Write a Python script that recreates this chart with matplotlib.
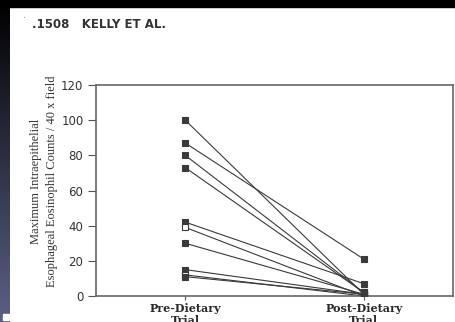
import matplotlib
matplotlib.use("Agg")
import matplotlib.pyplot as plt
import numpy as np

# eosinophil counts per patient, pre / post dietary trial
pre_counts = [100, 87, 80, 73, 42, 39, 30, 15, 12, 11]
post_counts = [1, 21, 2, 2, 7, 0, 1, 1, 0, 1]
open_marker = [False, False, False, False, False, True, False, False, True, False]
trial_labels = ["Pre-Dietary\nTrial", "Post-Dietary\nTrial"]
y_ticks = [0, 20, 40, 60, 80, 100, 120]

ink = "#3a3a3a"

fig = plt.figure(figsize=(4.56, 3.22), dpi=100)
fig.patch.set_facecolor("white")

# scanned page edges: black top band and dark gradient strip on the left
bg = fig.add_axes([0, 0, 1, 1])
bg.set_xlim(0, 456)
bg.set_ylim(322, 0)
bg.axis("off")
bg.add_patch(plt.Rectangle((0, 0), 456, 7, color="black"))
grad = np.linspace(0, 1, 256).reshape(-1, 1)
top_c = np.array([0.0, 0.0, 0.0])
bot_c = np.array([0.36, 0.38, 0.52])
strip = top_c + grad[..., None] * (bot_c - top_c)
strip = strip.reshape(256, 1, 3)
bg.imshow(strip, extent=[0, 10, 322, 0], aspect="auto")
bg.add_patch(plt.Rectangle((3, 314), 6, 6, color="white"))
bg.set_xlim(0, 456)
bg.set_ylim(322, 0)
bg.text(22, 22, "\u02d9", fontsize=7, color="#777777", va="center")
bg.text(32, 24, ".1508   KELLY ET AL.", fontsize=8.5, color="#333333",
        va="center", ha="left", family="DejaVu Sans", fontweight="semibold")

ax = fig.add_axes([96 / 456, 1 - 296 / 322, 357 / 456, 211 / 322])
x = [1, 3]
for p, q, o in zip(pre_counts, post_counts, open_marker):
    ax.plot(x, [p, q], color=ink, lw=0.8, zorder=2)
    ax.plot(x, [p, q], ls="none", marker="s", ms=3.8,
            mfc="white" if o else ink, mec=ink, mew=0.8, zorder=3)

ax.set_xlim(0, 4)
ax.set_ylim(0, 120)
ax.set_yticks(y_ticks)
ax.set_xticks(x)
ax.set_xticklabels(trial_labels, family="DejaVu Serif", fontweight="bold",
                   fontsize=8, color="#2a2a2a", linespacing=1.1)
for lab in ax.get_yticklabels():
    lab.set_family("DejaVu Sans")
    lab.set_fontsize(8.5)
    lab.set_color("#333333")
ax.tick_params(axis="y", direction="out", length=6, width=0.8, color="#555555", pad=3)
ax.tick_params(axis="x", direction="out", length=3, width=0.8, color="#555555", pad=2)
for s in ax.spines.values():
    s.set_color("#666666")
    s.set_linewidth(1.2)

fig.text(44 / 456, 1 - 181 / 322,
         "Maximum Intraepithelial\nEsophageal Eosinophil Counts / 40 x field",
         rotation=90, ha="center", va="center", family="Liberation Serif",
         fontsize=9, color="#333333", linespacing=1.4)

fig.savefig("out.png", dpi=100)
